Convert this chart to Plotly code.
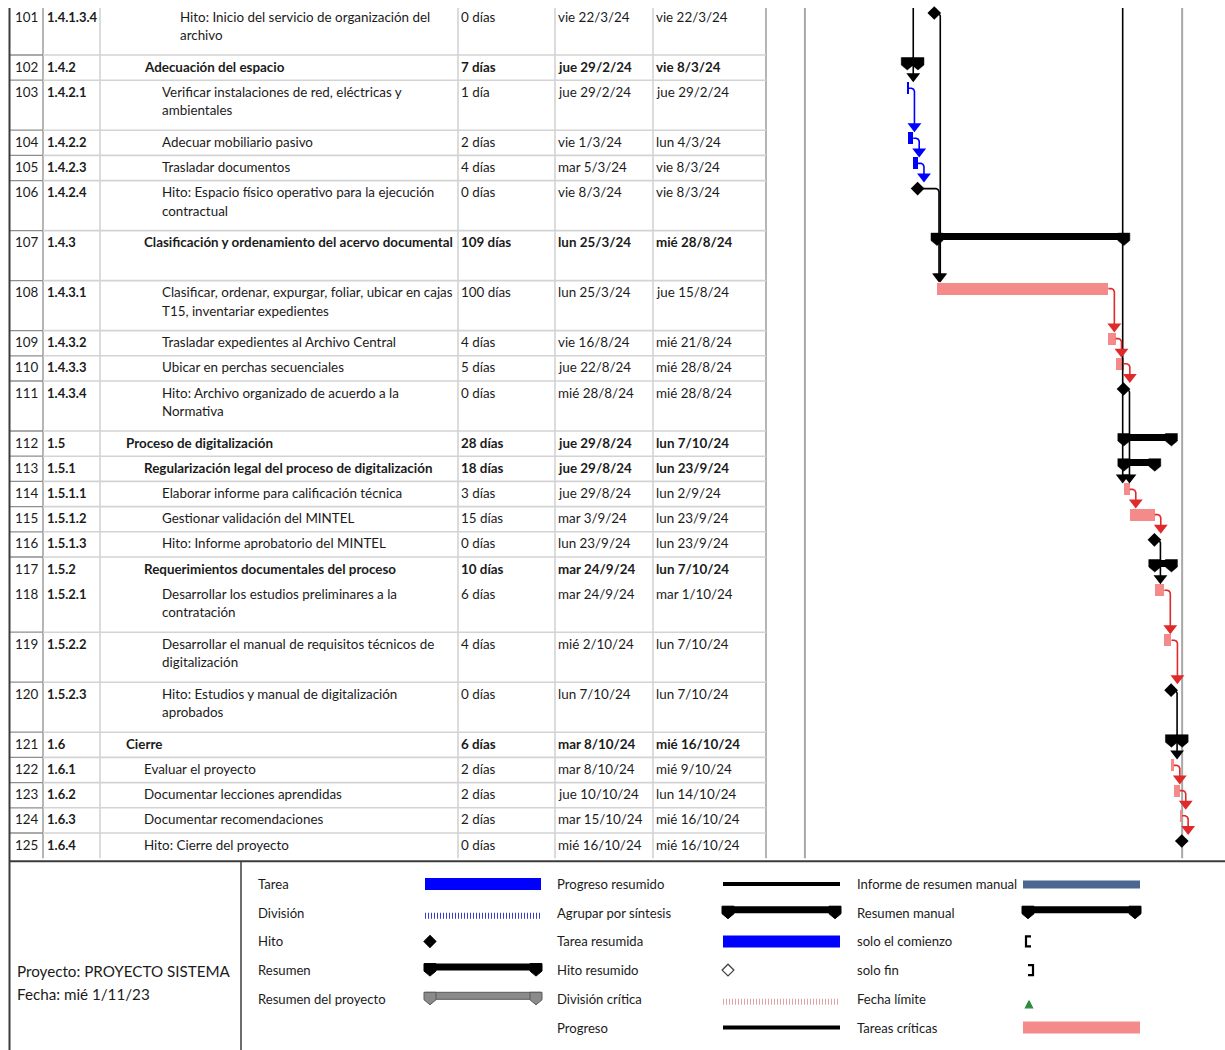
import datetime as dt
import plotly.graph_objects as go

# ---------------------------------------------------------------- data
ids = list(range(101, 126))
wbs = ["1.4.1.3.4", "1.4.2", "1.4.2.1", "1.4.2.2", "1.4.2.3", "1.4.2.4", "1.4.3",
       "1.4.3.1", "1.4.3.2", "1.4.3.3", "1.4.3.4", "1.5", "1.5.1", "1.5.1.1",
       "1.5.1.2", "1.5.1.3", "1.5.2", "1.5.2.1", "1.5.2.2", "1.5.2.3", "1.6",
       "1.6.1", "1.6.2", "1.6.3", "1.6.4"]
names = [
    "Hito: Inicio del servicio de organización del\narchivo",
    "Adecuación del espacio",
    "Verificar instalaciones de red, eléctricas y\nambientales",
    "Adecuar mobiliario pasivo",
    "Trasladar documentos",
    "Hito: Espacio físico operativo para la ejecución\ncontractual",
    "Clasificación y ordenamiento del acervo documental",
    "Clasificar, ordenar, expurgar, foliar, ubicar en cajas\nT15, inventariar expedientes",
    "Trasladar expedientes al Archivo Central",
    "Ubicar en perchas secuenciales",
    "Hito: Archivo organizado de acuerdo a la\nNormativa",
    "Proceso de digitalización",
    "Regularización legal del proceso de digitalización",
    "Elaborar informe para calificación técnica",
    "Gestionar validación del MINTEL",
    "Hito: Informe aprobatorio del MINTEL",
    "Requerimientos documentales del proceso",
    "Desarrollar los estudios preliminares a la\ncontratación",
    "Desarrollar el manual de requisitos técnicos de\ndigitalización",
    "Hito: Estudios y manual de digitalización\naprobados",
    "Cierre",
    "Evaluar el proyecto",
    "Documentar lecciones aprendidas",
    "Documentar recomendaciones",
    "Hito: Cierre del proyecto",
]
durations = ["0 días", "7 días", "1 día", "2 días", "4 días", "0 días", "109 días",
             "100 días", "4 días", "5 días", "0 días", "28 días", "18 días", "3 días",
             "15 días", "0 días", "10 días", "6 días", "4 días", "0 días", "6 días",
             "2 días", "2 días", "2 días", "0 días"]
start_labels = ["vie 22/3/24", "jue 29/2/24", "jue 29/2/24", "vie 1/3/24", "mar 5/3/24",
                "vie 8/3/24", "lun 25/3/24", "lun 25/3/24", "vie 16/8/24", "jue 22/8/24",
                "mié 28/8/24", "jue 29/8/24", "jue 29/8/24", "jue 29/8/24", "mar 3/9/24",
                "lun 23/9/24", "mar 24/9/24", "mar 24/9/24", "mié 2/10/24", "lun 7/10/24",
                "mar 8/10/24", "mar 8/10/24", "jue 10/10/24", "mar 15/10/24", "mié 16/10/24"]
finish_labels = ["vie 22/3/24", "vie 8/3/24", "jue 29/2/24", "lun 4/3/24", "vie 8/3/24",
                 "vie 8/3/24", "mié 28/8/24", "jue 15/8/24", "mié 21/8/24", "mié 28/8/24",
                 "mié 28/8/24", "lun 7/10/24", "lun 23/9/24", "lun 2/9/24", "lun 23/9/24",
                 "lun 23/9/24", "lun 7/10/24", "mar 1/10/24", "lun 7/10/24", "lun 7/10/24",
                 "mié 16/10/24", "mié 9/10/24", "lun 14/10/24", "mié 16/10/24", "mié 16/10/24"]
summary_ids = [102, 107, 112, 113, 117, 121]
critical_ids = [108, 109, 110, 114, 115, 118, 119, 122, 123, 124]
# finish-to-start links (predecessor, successor)
links = [(101, 108), (103, 104), (104, 105), (105, 106), (106, 108), (108, 109),
         (109, 110), (110, 111), (111, 114), (114, 115), (115, 116), (116, 118),
         (118, 119), (119, 120), (120, 122), (122, 123), (123, 124), (124, 125)]
# links whose predecessor lies in earlier rows (finish date, successor)
offpage_links = [("2024-02-28", 103), ("2024-08-22", 114)]
project_start = "2023-12-05"
project_finish = "2024-10-16"

project_name = "Proyecto: PROYECTO SISTEMA"
report_date = "Fecha: mié 1/11/23"
legend_col1 = ["Tarea", "División", "Hito", "Resumen", "Resumen del proyecto"]
legend_col2 = ["Progreso resumido", "Agrupar por síntesis", "Tarea resumida",
               "Hito resumido", "División crítica", "Progreso"]
legend_col3 = ["Informe de resumen manual", "Resumen manual", "solo el comienzo",
               "solo fin", "Fecha límite", "Tareas críticas"]

# ---------------------------------------------------------------- layout constants
W, H = 1225, 1050
FONT = "Lato"
TXT = "#1b1b1b"
BLUE = "#0000ff"
PINK = "#f48a8a"
RED = "#de2a2a"
GRID = "#d3d3d3"
DARK = "#3c3c3c"
MID = "#8e8e8e"

row_lines = [2, 1, 2, 1, 1, 2, 2, 2, 1, 1, 2, 1, 1, 1, 1, 1, 1, 2, 2, 2, 1, 1, 1, 1, 1]
ROW_H = {1: 25.2, 2: 50.0}
TABLE_TOP = 5.0
LINES_TOP = 8.0
no_rule_after = {117}

COL_ID, COL_WBS, COL_NAME, COL_DUR, COL_START, COL_FIN, COL_END = 9.5, 43, 100, 458, 555, 653, 766

# timescale: pixels per calendar day and a reference date position
PX_PER_DAY = 1.19
REF_DATE = dt.datetime(2024, 3, 25)
REF_PX = 937.0
GANTT_LEFT = 780.0


def parse_label(lbl):
    d, m, y = lbl.split()[1].split("/")
    return dt.datetime(2000 + int(y), int(m), int(d))


def shift(d, px):
    return d + dt.timedelta(days=px / PX_PER_DAY)


starts = [parse_label(s) for s in start_labels]
finishes = [parse_label(s) for s in finish_labels]
ends = [f + dt.timedelta(days=1) for f in finishes]
milestone = [d.startswith("0 ") for d in durations]
is_summary = [i in summary_ids for i in ids]
is_critical = [i in critical_ids for i in ids]
pos = {tid: k for k, tid in enumerate(ids)}

row_top = []
y = TABLE_TOP
for n in row_lines:
    row_top.append(y)
    y += ROW_H[n]
TABLE_BOTTOM = y
LEGEND_TOP = TABLE_BOTTOM + 3

bar_cy = [t + 8 for t in row_top]
sum_cy = [t + 6 for t in row_top]
ms_x = [f + dt.timedelta(hours=17) for f in finishes]

x_range = [shift(REF_DATE, -(REF_PX - GANTT_LEFT)), shift(REF_DATE, W - REF_PX)]

fig = go.Figure()
shapes = []
annotations = []


def line(x0, y0, x1, y1, color, width, dash=None):
    ln = dict(color=color, width=width)
    if dash:
        ln["dash"] = dash
    shapes.append(dict(type="line", xref="x2", yref="y", x0=x0, y0=y0, x1=x1, y1=y1,
                       line=ln, layer="below"))


def rect(x0, y0, x1, y1, fill, outline=None):
    shapes.append(dict(type="rect", xref="x2", yref="y", x0=x0, y0=y0, x1=x1, y1=y1,
                       fillcolor=fill, line=dict(width=1 if outline else 0, color=outline or fill)))


def text(x, y, s, size=13.3, bold=False, color=TXT, anchor="left"):
    annotations.append(dict(xref="x2", yref="y", x=x, y=y, text=f"<b>{s}</b>" if bold else s,
                            showarrow=False, xanchor=anchor, yanchor="middle",
                            font=dict(family=FONT, size=size, color=color)))


# ---------------------------------------------------------------- table grid
for xc in (COL_NAME, COL_DUR, COL_START, COL_FIN):
    line(xc, LINES_TOP, xc, TABLE_BOTTOM, GRID, 1.6)
line(COL_END, LINES_TOP, COL_END, TABLE_BOTTOM, "#a2a2a2", 1.6)
line(COL_WBS, LINES_TOP, COL_WBS, TABLE_BOTTOM, MID, 1.3)
for k, t in enumerate(row_top):
    if ids[k] in no_rule_after or k == len(row_top) - 1:
        continue
    yb = row_top[k + 1]
    line(COL_WBS, yb, COL_END, yb, GRID, 1.6)
    line(COL_ID, yb, COL_WBS, yb, MID, 1.3)

# frame of the report
line(COL_ID, LINES_TOP, COL_ID, H, DARK, 2)
line(COL_ID, LEGEND_TOP, W, LEGEND_TOP, DARK, 2)
line(241, LEGEND_TOP, 241, H, DARK, 1.5)

# ---------------------------------------------------------------- table text
SIZE = 13.4
PAD = -2.5
for k in range(len(ids)):
    t = row_top[k]
    y1 = t + 11.5
    bold = is_summary[k]
    text(15 + PAD, y1, str(ids[k]), SIZE)
    text(47 + PAD, y1, wbs[k], SIZE - 0.4, bold=True)
    level = wbs[k].count(".") + 1
    nx = 126 + (level - 2) * 18 + PAD
    for j, part in enumerate(names[k].split("\n")):
        text(nx, y1 + 18.5 * j, part, SIZE, bold=bold)
    text(COL_DUR + 3 + PAD, y1, durations[k], SIZE, bold=bold)
    text(COL_START + 3 + PAD, y1, start_labels[k], SIZE, bold=bold)
    text(COL_FIN + 3 + PAD, y1, finish_labels[k], SIZE, bold=bold)

# ---------------------------------------------------------------- timescale reference lines
for d in (dt.datetime.fromisoformat(project_start),
          dt.datetime.fromisoformat(project_finish) + dt.timedelta(days=1)):
    shapes.append(dict(type="line", xref="x", yref="y", x0=d, x1=d, y0=LINES_TOP, y1=TABLE_BOTTOM,
                       line=dict(color="#a8a8a8", width=2), layer="below"))

# ---------------------------------------------------------------- link lines
ARROW_SIZE = 12


def link_trace(xs, ys, color):
    return go.Scatter(x=xs, y=ys, mode="lines", line=dict(color=color, width=1.6),
                      xaxis="x", yaxis="y", hoverinfo="skip", showlegend=False)


arrow_pts = {"black": ([], []), RED: ([], []), BLUE: ([], [])}
link_xy = {"black": ([], []), RED: ([], []), BLUE: ([], [])}

for p, s in links:
    pi, si = pos[p], pos[s]
    if milestone[pi]:
        x_from = shift(ms_x[pi], 3)
        pend = ms_x[pi]
        color = "black"
    else:
        x_from = ends[pi]
        pend = ends[pi]
        color = RED if is_critical[pi] else BLUE
    y0 = bar_cy[pi]
    xl = max(shift(starts[si], 2), shift(pend, 6))
    tip = bar_cy[si] - 6
    xs, ys = link_xy[color]
    xs += [x_from, shift(xl, -3), shift(xl, -1), xl, xl, None]
    ys += [y0, y0, y0 + 1, y0 + 3, tip - 4, None]
    arrow_pts[color][0].append(xl)
    arrow_pts[color][1].append(tip - ARROW_SIZE / 2)

for fin, s in offpage_links:
    si = pos[s]
    xl = shift(dt.datetime.fromisoformat(fin) + dt.timedelta(days=1), 6)
    tip = bar_cy[si] - 6
    xs, ys = link_xy["black"]
    xs += [xl, xl, None]
    ys += [LINES_TOP, tip - 4, None]
    arrow_pts["black"][0].append(xl)
    arrow_pts["black"][1].append(tip - ARROW_SIZE / 2)

for color, (xs, ys) in link_xy.items():
    fig.add_trace(link_trace(xs, ys, color))

# ---------------------------------------------------------------- bars


def bar_trace(idx, color, height, centers):
    return go.Bar(orientation="h",
                  base=[starts[i].isoformat() for i in idx],
                  x=[(ends[i] - starts[i]).total_seconds() * 1000 for i in idx],
                  y=[centers[i] for i in idx], width=height,
                  marker=dict(color=color, line=dict(width=0)),
                  xaxis="x", yaxis="y", hoverinfo="skip", showlegend=False)


task_idx = [i for i in range(len(ids)) if not milestone[i] and not is_summary[i]]
fig.add_trace(bar_trace([i for i in task_idx if not is_critical[i]], BLUE, 12, bar_cy))
fig.add_trace(bar_trace([i for i in task_idx if is_critical[i]], PINK, 12, bar_cy))
sum_idx = [i for i in range(len(ids)) if is_summary[i]]
fig.add_trace(bar_trace(sum_idx, "black", 7, sum_cy))

# summary end caps
CAP = [(-6, -3.5), (6, -3.5), (6, 4), (0, 9), (-6, 4)]
cx, cy = [], []
for i in sum_idx:
    for xd in (starts[i], ends[i]):
        for dx, dy in CAP + CAP[:1]:
            cx.append(shift(xd, dx))
            cy.append(sum_cy[i] + dy)
        cx.append(None)
        cy.append(None)
fig.add_trace(go.Scatter(x=cx, y=cy, mode="lines", fill="toself", fillcolor="black",
                         line=dict(width=0.5, color="black"), xaxis="x", yaxis="y",
                         hoverinfo="skip", showlegend=False))

# milestones
ms_idx = [i for i in range(len(ids)) if milestone[i]]
fig.add_trace(go.Scatter(x=[ms_x[i] for i in ms_idx], y=[bar_cy[i] for i in ms_idx],
                         mode="markers", marker=dict(symbol="diamond", size=10.5, color="black",
                                                     line=dict(width=0)),
                         xaxis="x", yaxis="y", hoverinfo="skip", showlegend=False))

# arrow heads
for color, (xs, ys) in arrow_pts.items():
    fig.add_trace(go.Scatter(x=xs, y=ys, mode="markers",
                             marker=dict(symbol="triangle-down", size=ARROW_SIZE, color=color,
                                         line=dict(width=0)),
                             xaxis="x", yaxis="y", hoverinfo="skip", showlegend=False))

# ---------------------------------------------------------------- legend block
LEG_Y0 = 884
LEG_DY = 28.7
LEG_SIZE = 13.1
text(15, 971, project_name, 15.2)
text(15, 994, report_date, 15.2)

legend_cols = [(256, 425, 541, legend_col1), (555, 723, 840, legend_col2), (855, 1023, 1140, legend_col3)]
leg_markers = []  # (x, y, symbol, fill, outline)


def summary_symbol(x0, x1, yc, color, outline=None):
    rect(x0, yc - 3.5, x1, yc + 3.5, color, outline)
    for xc in (x0 + 5, x1 - 5):
        pts = [(xc + dx, yc + dy) for dx, dy in CAP]
        path = "M " + " L ".join(f"{px},{py}" for px, py in pts) + " Z"
        shapes.append(dict(type="path", xref="x2", yref="y", path=path, fillcolor=color,
                           line=dict(color=outline or color, width=1)))


for lx, sx0, sx1, labels in legend_cols:
    for j, lab in enumerate(labels):
        yc = LEG_Y0 + LEG_DY * j
        text(lx, yc, lab, LEG_SIZE)
        if lab in ("Tarea", "Tarea resumida"):
            rect(sx0, yc - 6, sx1, yc + 6, BLUE)
        elif lab == "Tareas críticas":
            rect(sx0, yc - 6, sx1, yc + 6, PINK)
        elif lab == "Informe de resumen manual":
            rect(sx0, yc - 3.5, sx1, yc + 4.5, "#4b6891")
        elif lab in ("División", "División crítica"):
            col = "#3a3ac8" if lab == "División" else "#e3a2a6"
            line(sx0, yc + 3, sx1, yc + 3, col, 6, dash="1px,2px")
        elif lab == "Hito":
            leg_markers.append((sx0 + 5, yc, "diamond", "black", "black"))
        elif lab == "Hito resumido":
            leg_markers.append((sx0 + 5, yc, "diamond-open", "#444444", "#444444"))
        elif lab in ("Resumen", "Agrupar por síntesis", "Resumen manual"):
            summary_symbol(sx0, sx1, yc - 3, "black")
        elif lab == "Resumen del proyecto":
            summary_symbol(sx0, sx1, yc - 3, "#8a8a8a", "#5a5a5a")
        elif lab in ("Progreso resumido", "Progreso"):
            line(sx0, yc, sx1, yc, "black", 4)
        elif lab == "solo el comienzo":
            xa = sx0 + 3
            shapes.append(dict(type="path", xref="x2", yref="y",
                               path=f"M {xa + 5},{yc - 5} L {xa},{yc - 5} L {xa},{yc + 5} L {xa + 5},{yc + 5}",
                               line=dict(color="black", width=2.2)))
        elif lab == "solo fin":
            xa = sx0 + 10
            shapes.append(dict(type="path", xref="x2", yref="y",
                               path=f"M {xa - 5},{yc - 5} L {xa},{yc - 5} L {xa},{yc + 5} L {xa - 5},{yc + 5}",
                               line=dict(color="black", width=2.2)))
        elif lab == "Fecha límite":
            leg_markers.append((sx0 + 6, yc + 2, "arrow-up", "#2e8b3e", "#2e8b3e"))

for mx, my, sym, fill, outl in leg_markers:
    size = 9 if "diamond" in sym else 7
    fig.add_trace(go.Scatter(x=[mx], y=[my], mode="markers", xaxis="x2", yaxis="y",
                             marker=dict(symbol=sym, size=size, color=fill,
                                         line=dict(color=outl, width=1.3)),
                             hoverinfo="skip", showlegend=False))

# ---------------------------------------------------------------- axes / layout
fig.update_layout(
    width=W, height=H,
    margin=dict(l=0, r=0, t=0, b=0),
    paper_bgcolor="white", plot_bgcolor="rgba(0,0,0,0)",
    barmode="overlay", bargap=0,
    showlegend=False,
    shapes=shapes, annotations=annotations,
    xaxis=dict(type="date", domain=[GANTT_LEFT / W, 1], range=x_range, visible=False,
               fixedrange=True, anchor="y"),
    xaxis2=dict(domain=[0, 1], range=[0, W], visible=False, fixedrange=True, anchor="y"),
    yaxis=dict(range=[H, 0], domain=[0, 1], visible=False, fixedrange=True, anchor="x"),
)

fig.write_html("out.html", config={"displayModeBar": False})
